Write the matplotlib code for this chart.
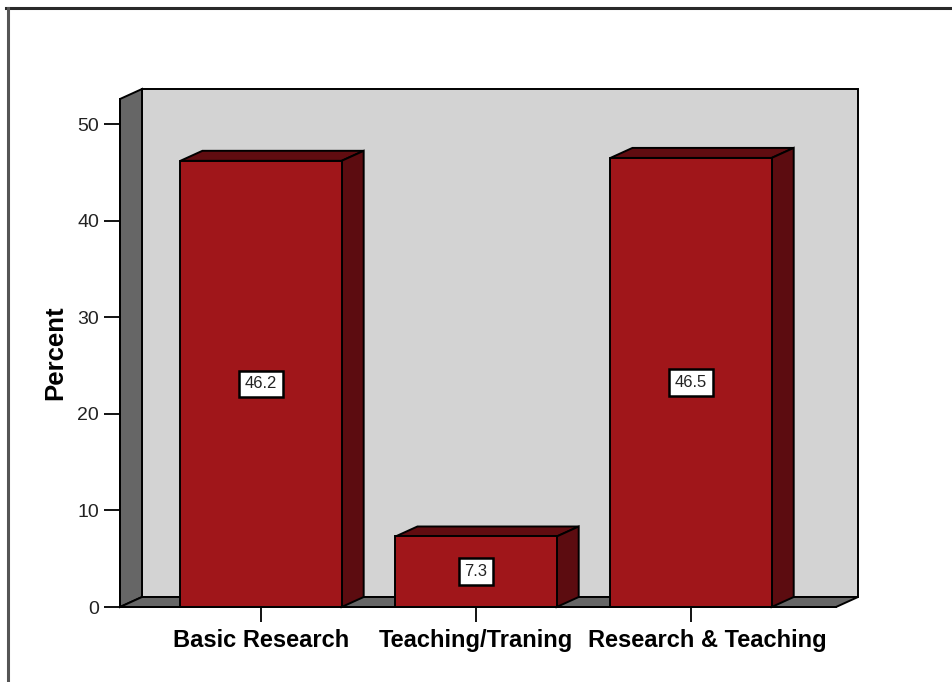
import matplotlib
matplotlib.use("Agg")
import matplotlib.pyplot as plt
from matplotlib.patches import Polygon, Rectangle
from matplotlib.lines import Line2D
from matplotlib.transforms import ScaledTranslation

# Data
categories = ["Basic Research", "Teaching/Traning", "Research & Teaching"]
percents = [46.2, 7.3, 46.5]
value_labels = ["46.2", "7.3", "46.5"]
y_ticks = [0, 10, 20, 30, 40, 50]

plt.rcParams["font.family"] = ["Liberation Sans", "DejaVu Sans"]

W, H = 953, 682
fig = plt.figure(figsize=(W / 100, H / 100), dpi=100)
fig.patch.set_facecolor("white")

# axes box spans the front edge of the floor and the y-axis line
ax_left, ax_right, ax_bottom, ax_top = 120, 836, 607, 99
ax = fig.add_axes([ax_left / W, 1 - ax_bottom / H,
                   (ax_right - ax_left) / W, (ax_bottom - ax_top) / H])

xmin, xmax = -0.656, 2.674
ymax = 52.6
ax.set_xlim(xmin, xmax)
ax.set_ylim(0, ymax)

# 3D depth offset (in data units)
px_per_x = (ax_right - ax_left) / (xmax - xmin)
px_per_y = (ax_bottom - ax_top) / ymax
DX = 22 / px_per_x
DY = 10 / px_per_y

edge = "black"
lw = 1.4
wall_c = "#d3d3d3"
side_c = "#666666"
bar_front = "#a0161a"
bar_side = "#5c0c10"
bar_top = "#600c10"

# back wall
ax.add_patch(Rectangle((xmin + DX, DY), xmax - xmin, ymax, fc=wall_c, ec=edge,
                       lw=lw, clip_on=False, zorder=1))
# left side wall
ax.add_patch(Polygon([(xmin, 0), (xmin + DX, DY), (xmin + DX, ymax + DY), (xmin, ymax)],
                     closed=True, fc=side_c, ec=edge, lw=lw, clip_on=False, zorder=2))
# floor
ax.add_patch(Polygon([(xmin, 0), (xmax, 0), (xmax + DX, DY), (xmin + DX, DY)],
                     closed=True, fc=side_c, ec=edge, lw=lw, clip_on=False, zorder=2))

# bars
bw = 0.75
for i, (v, lab) in enumerate(zip(percents, value_labels)):
    x0, x1 = i - bw / 2, i + bw / 2
    ax.add_patch(Polygon([(x0, v), (x1, v), (x1 + DX, v + DY), (x0 + DX, v + DY)],
                         closed=True, fc=bar_top, ec=edge, lw=lw, clip_on=False, zorder=3))
    ax.add_patch(Polygon([(x1, 0), (x1 + DX, DY), (x1 + DX, v + DY), (x1, v)],
                         closed=True, fc=bar_side, ec=edge, lw=lw, clip_on=False, zorder=3))
    ax.add_patch(Rectangle((x0, 0), bw, v, fc=bar_front, ec=edge, lw=lw,
                           clip_on=False, zorder=4))
    ax.text(i, v / 2, lab, ha="center", va="center", fontsize=12, color="#222222",
            zorder=6,
            bbox=dict(boxstyle="square,pad=0.35", fc="white", ec="black", lw=1.8))

# axes styling
for s in ["top", "right"]:
    ax.spines[s].set_visible(False)
for s in ["left", "bottom"]:
    ax.spines[s].set_linewidth(lw)
    ax.spines[s].set_zorder(5)
ax.patch.set_visible(False)

ax.set_yticks(y_ticks)
ax.set_xticks(range(len(categories)))
ax.set_xticklabels(categories, fontsize=17, fontweight="bold")
ax.tick_params(axis="y", length=11.5, width=1.3, pad=3.5, labelsize=14,
               labelcolor="#222222")
ax.tick_params(axis="x", length=11, width=1.3, pad=5)
ax.set_ylabel("Percent", fontsize=18.5, fontweight="bold", labelpad=7)

# nudge the last category label right so it clears its neighbour
last = ax.get_xticklabels()[-1]
last.set_transform(last.get_transform() + ScaledTranslation(16 / 100, 0, fig.dpi_scale_trans))

# outer frame lines
fig.add_artist(Line2D([6 / W, 1], [1 - 8 / H, 1 - 8 / H], color="#2a2a2a", lw=2.2,
                      transform=fig.transFigure))
fig.add_artist(Line2D([8 / W, 8 / W], [1 - 8 / H, 0], color="#555555", lw=2.2,
                      transform=fig.transFigure))

fig.savefig("out.png", dpi=100, facecolor="white")
